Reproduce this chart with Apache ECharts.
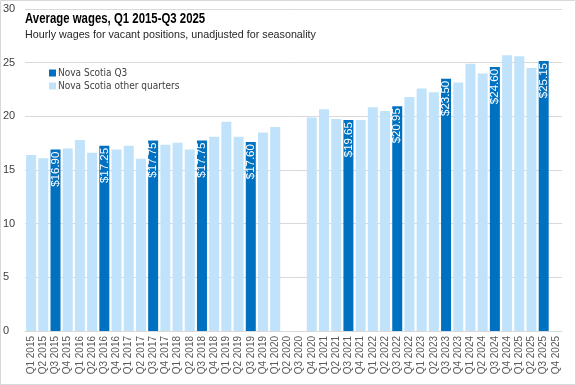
<!DOCTYPE html>
<html>
<head>
<meta charset="utf-8">
<script src="https://cdn.jsdelivr.net/npm/echarts@6/dist/echarts.min.js"></script>
<style>
html,body{margin:0;padding:0;background:#fff;}
#chart{width:576px;height:385px;}
</style>
</head>
<body>
<div id="chart"></div>
<script>
var categories = [
  'Q1 2015','Q2 2015','Q3 2015','Q4 2015',
  'Q1 2016','Q2 2016','Q3 2016','Q4 2016',
  'Q1 2017','Q2 2017','Q3 2017','Q4 2017',
  'Q1 2018','Q2 2018','Q3 2018','Q4 2018',
  'Q1 2019','Q2 2019','Q3 2019','Q4 2019',
  'Q1 2020','Q2 2020','Q3 2020','Q4 2020',
  'Q1 2021','Q2 2021','Q3 2021','Q4 2021',
  'Q1 2022','Q2 2022','Q3 2022','Q4 2022',
  'Q1 2023','Q2 2023','Q3 2023','Q4 2023',
  'Q1 2024','Q2 2024','Q3 2024','Q4 2024',
  'Q1 2025','Q2 2025','Q3 2025','Q4 2025'
];
var q3Values = [
  null,null,16.90,null,
  null,null,17.25,null,
  null,null,17.75,null,
  null,null,17.75,null,
  null,null,17.60,null,
  null,null,null,null,
  null,null,19.65,null,
  null,null,20.95,null,
  null,null,23.50,null,
  null,null,24.60,null,
  null,null,25.15,null
];
var otherValues = [
  16.40,16.10,null,17.00,
  17.80,16.60,null,16.90,
  17.25,16.05,null,17.35,
  17.55,16.90,null,18.10,
  19.50,18.10,null,18.50,
  19.00,null,null,19.90,
  20.65,19.75,null,19.65,
  20.85,20.50,null,21.80,
  22.60,22.25,null,23.15,
  24.90,24.00,null,25.70,
  25.60,24.50,null,null
];
var yTicks = { min: 0, max: 30, interval: 5 };
var titleText = 'Average wages, Q1 2015-Q3 2025';
var subtitleText = 'Hourly wages for vacant positions, unadjusted for seasonality';
var seriesNames = ['Nova Scotia Q3', 'Nova Scotia other quarters'];

var chart = echarts.init(document.getElementById('chart'), null, {renderer: 'canvas'});
var option = {
  animation: false,
  backgroundColor: '#ffffff',
  grid: { left: 25, right: 14, top: 9, bottom: 54, containLabel: false },
  legend: {
    orient: 'vertical',
    left: 44,
    top: 63,
    itemWidth: 7,
    itemHeight: 7,
    itemGap: 3,
    icon: 'rect',
    textStyle: { fontFamily: '"DejaVu Sans Condensed", "Liberation Sans"', fontSize: 10, color: '#404040', padding: [0,0,0,-3] },
    data: seriesNames
  },
  graphic: [
    { type: 'rect', shape: { x: 0.5, y: 0.5, width: 575, height: 384 }, style: { fill: 'none', stroke: '#d9d9d9', lineWidth: 1 }, silent: true, z: 100 },
    { type: 'text', x: 25, y: 11, scaleX: 0.76, style: { text: titleText, font: 'bold 15px "Liberation Sans"', fill: '#000000' }, z: 100 },
    { type: 'text', x: 25, y: 29, scaleX: 0.975, style: { text: subtitleText, font: '11px "Liberation Sans"', fill: '#262626' }, z: 100 }
  ],
  xAxis: {
    type: 'category',
    data: categories,
    axisLine: { show: true, lineStyle: { color: '#d9d9d9', width: 1 } },
    axisTick: { show: false },
    axisLabel: { interval: 0, rotate: 90, fontFamily: 'Liberation Sans', fontSize: 10, color: '#595959', margin: 5 },
    splitLine: { show: false }
  },
  yAxis: {
    type: 'value',
    min: yTicks.min, max: yTicks.max, interval: yTicks.interval,
    axisLine: { show: false },
    axisTick: { show: false },
    axisLabel: { fontFamily: 'Liberation Sans', fontSize: 11, color: '#404040', align: 'left', margin: 22 },
    splitLine: { lineStyle: { color: '#d9d9d9', width: 1 } }
  },
  series: [
    {
      name: seriesNames[0],
      type: 'bar',
      data: q3Values,
      barWidth: 10,
      barGap: '-100%',
      itemStyle: { color: '#0070c0' },
      label: {
        show: true,
        position: 'insideTop',
        rotate: 90,
        align: 'right',
        verticalAlign: 'middle',
        distance: 2,
        color: '#ffffff',
        fontFamily: 'Liberation Sans',
        fontSize: 11.5,
        formatter: function (p) { return '$' + p.value.toFixed(2); }
      },
      z: 3
    },
    {
      name: seriesNames[1],
      type: 'bar',
      data: otherValues,
      barWidth: 10,
      barGap: '-100%',
      itemStyle: { color: '#c0e3fb' },
      z: 2
    }
  ]
};
chart.setOption(option);
</script>
</body>
</html>
